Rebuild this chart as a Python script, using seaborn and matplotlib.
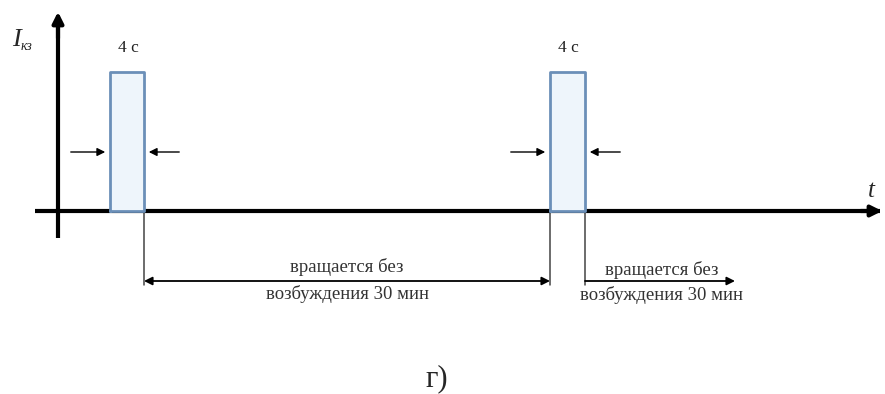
import matplotlib
matplotlib.use("Agg")
import matplotlib.pyplot as plt
import numpy as np
import pandas as pd
import seaborn as sns

# Schematic timing of the short-circuit current pulses (drawing time units)
pulse_on = [52, 492]
pulse_off = [86, 527]
pulse_level = 1.0          # I_кз, normalised
pulse_labels = ["4 с", "4 с"]
span_lines = ["вращается без", "возбуждения 30 мин"]
panel_label = "г)"

sns.set_theme(style="white")
plt.rcParams["font.family"] = ["Liberation Serif", "DejaVu Serif"]

fig = plt.figure(figsize=(8.85, 3.94), dpi=100)
ax = fig.add_axes([0, 0, 1, 1])
ax.set_xlim(-58, 827)
ax.set_ylim(-183 / 139, 211 / 139)
ax.axis("off")

pulse_col = "#6b8fb8"
fill_col = "#eef5fb"
text_col = "#333333"

# axes with arrow heads
ax.plot([-23, 822], [0, 0], color="black", lw=3, solid_capstyle="butt", zorder=2)
ax.annotate("", xy=(827, 0), xytext=(800, 0),
            arrowprops=dict(arrowstyle="-|>", color="black", lw=3, mutation_scale=16))
ax.plot([0, 0], [-27 / 139, 190 / 139], color="black", lw=3, solid_capstyle="butt", zorder=2)
ax.annotate("", xy=(0, 202 / 139), xytext=(0, 170 / 139),
            arrowprops=dict(arrowstyle="-|>", color="black", lw=3, mutation_scale=16))

# pulses
rows = []
for i, (a, b) in enumerate(zip(pulse_on, pulse_off)):
    for t, v in [(a, 0), (a, pulse_level), (b, pulse_level), (b, 0), (a, 0)]:
        rows.append({"t": t, "I": v, "pulse": i})
df = pd.DataFrame(rows)
for a, b in zip(pulse_on, pulse_off):
    ax.fill_between([a, b], 0, pulse_level, color=fill_col, zorder=3, lw=0)
sns.lineplot(data=df, x="t", y="I", units="pulse", estimator=None, sort=False,
             color=pulse_col, lw=2.0, ax=ax, zorder=4, legend=False)
ax.set_xlabel("")
ax.set_ylabel("")

# duration labels and inward arrows
arrow_y = 59 / 139
for a, b, lab in zip(pulse_on, pulse_off, pulse_labels):
    ax.text((a + b) / 2 + 1, 163 / 139, lab, ha="center", va="center", fontsize=12.5, color="#222222")
    ax.annotate("", xy=(a - 2, arrow_y), xytext=(a - 42, arrow_y),
                arrowprops=dict(arrowstyle="-|>", color="black", lw=1, mutation_scale=12))
    ax.annotate("", xy=(b + 2, arrow_y), xytext=(b + 38, arrow_y),
                arrowprops=dict(arrowstyle="-|>", color="black", lw=1, mutation_scale=12))

# drop lines under pulse edges
drop_bottom = -74 / 139
for x in [pulse_off[0], pulse_on[1], pulse_off[1]]:
    ax.plot([x, x], [0, drop_bottom], color="#444444", lw=1.1, zorder=1)

# interval between pulses
span_y = -70 / 139
ax.annotate("", xy=(pulse_on[1], span_y), xytext=(pulse_off[0], span_y),
            arrowprops=dict(arrowstyle="<|-|>", color="black", lw=1.3, mutation_scale=12,
                            shrinkA=0, shrinkB=0))
mid = (pulse_off[0] + pulse_on[1]) / 2
ax.text(mid, -56 / 139, span_lines[0], ha="center", va="center", fontsize=13.5, color=text_col)
ax.text(mid, -83 / 139, span_lines[1], ha="center", va="center", fontsize=13.5, color=text_col)

# interval after the second pulse
ax.annotate("", xy=(pulse_off[1] + 150, span_y), xytext=(pulse_off[1], span_y),
            arrowprops=dict(arrowstyle="-|>", color="black", lw=1.3, mutation_scale=12,
                            shrinkA=0, shrinkB=0))
ax.text(pulse_off[1] + 77, -59 / 139, span_lines[0], ha="center", va="center",
        fontsize=13.5, color=text_col)
ax.text(pulse_off[1] + 76, -84 / 139, span_lines[1], ha="center", va="center",
        fontsize=13.5, color=text_col)

# axis names
ax.text(-42, 171 / 139, "I", fontsize=19, style="italic", ha="center", va="center")
ax.text(-37, 165 / 139, "кз", fontsize=10, style="italic", ha="left", va="center")
ax.text(813, 20 / 139, "t", fontsize=18, style="italic", ha="center", va="center")

ax.text(379, -168 / 139, panel_label, fontsize=22, ha="center", va="center")

fig.savefig("out.png", dpi=100)
